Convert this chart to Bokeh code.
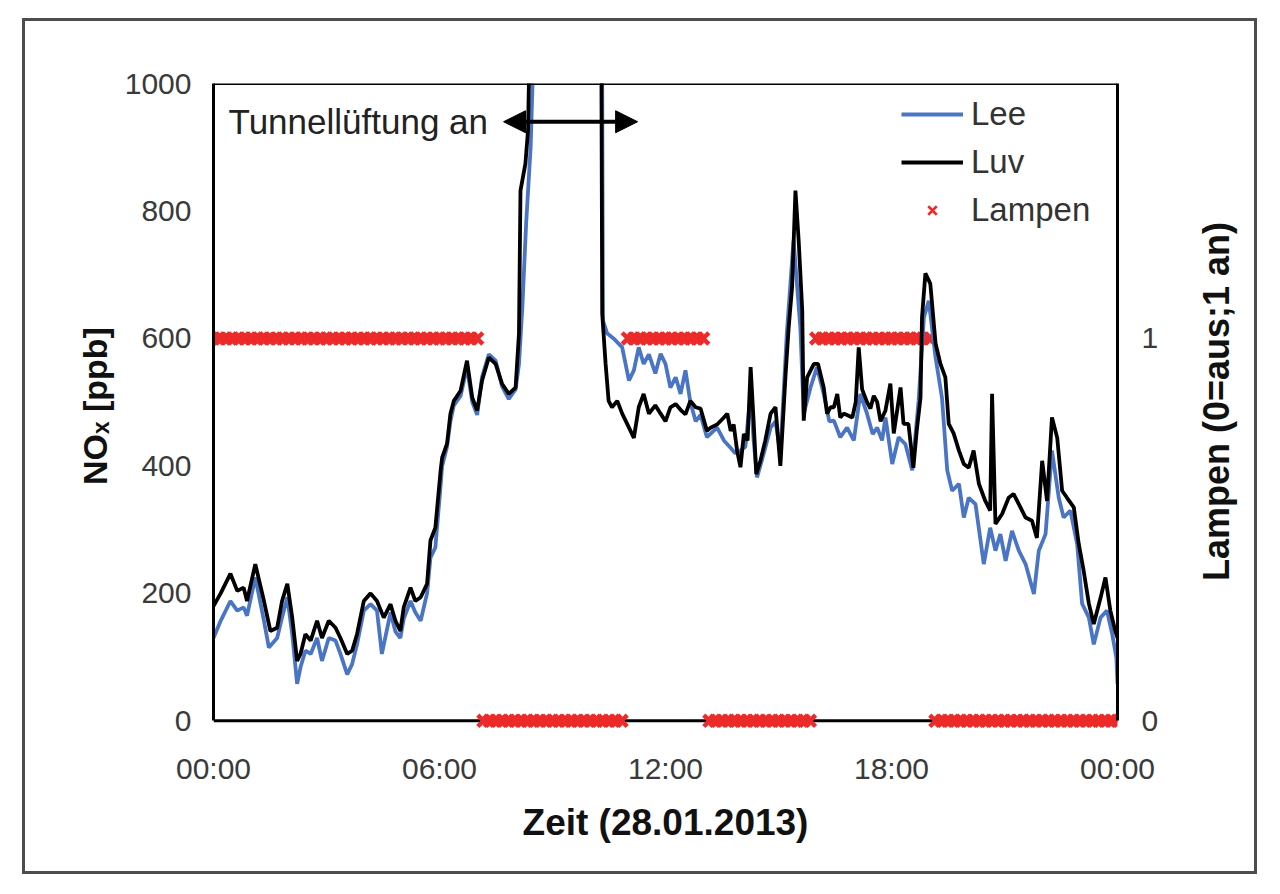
import math
from bokeh.plotting import figure
from bokeh.models import (Range1d, LinearAxis, FixedTicker, Span, Arrow, NormalHead,
                          Label, Legend, LegendItem)
from bokeh.embed import file_html
from bokeh.resources import INLINE

# ---------------- data ----------------
# Luv (black), NOx in ppb, time in hours of 28.01.2013
luv_hours = [0.00, 0.19, 0.45, 0.63, 0.80, 0.89, 1.11, 1.34, 1.51, 1.69, 1.82, 1.96, 2.09, 2.22, 2.31,
             2.44, 2.58, 2.75, 2.88, 3.06, 3.24, 3.37, 3.55, 3.68, 3.81, 3.99, 4.17, 4.34, 4.52, 4.70,
             4.83, 4.96, 5.05, 5.23, 5.36, 5.50, 5.67, 5.76, 5.89, 6.03, 6.07, 6.20, 6.29, 6.38, 6.56,
             6.73, 6.87, 7.00, 7.13, 7.31, 7.49, 7.66, 7.84, 8.02, 8.11, 8.15, 8.28, 8.35, 8.42, 8.60,
             9.40, 10.28, 10.32, 10.41, 10.49, 10.58, 10.72, 10.85, 11.03, 11.16, 11.29, 11.42, 11.56,
             11.73, 11.87, 12.00, 12.13, 12.27, 12.40, 12.53, 12.66, 12.80, 12.93, 13.10, 13.20, 13.37,
             13.55, 13.64, 13.73, 13.81, 13.90, 13.99, 14.08, 14.18, 14.26, 14.34, 14.41, 14.52, 14.65,
             14.79, 14.92, 15.05, 15.19, 15.27, 15.36, 15.45, 15.54, 15.63, 15.67, 15.76, 15.94, 16.05,
             16.20, 16.29, 16.38, 16.47, 16.56, 16.64, 16.73, 16.82, 16.96, 17.05, 17.13, 17.22, 17.35,
             17.44, 17.53, 17.62, 17.71, 17.84, 17.97, 18.06, 18.24, 18.32, 18.45, 18.58, 18.67, 18.77,
             18.81, 18.90, 19.03, 19.17, 19.30, 19.43, 19.52, 19.65, 19.79, 19.92, 20.05, 20.18, 20.32,
             20.49, 20.62, 20.67, 20.76, 20.94, 21.11, 21.24, 21.38, 21.56, 21.73, 21.86, 22.00, 22.13,
             22.26, 22.40, 22.53, 22.66, 22.84, 22.97, 23.10, 23.24, 23.37, 23.55, 23.68, 23.81, 23.94,
             24.00]
luv_nox = [180, 200, 231, 204, 209, 188, 246, 188, 141, 146, 188, 215, 162, 94, 105,
           136, 126, 157, 130, 157, 146, 130, 105, 110, 136, 188, 200, 188, 162, 183,
           157, 141, 178, 209, 188, 194, 215, 283, 303, 393, 413, 435, 482, 502, 518,
           565, 507, 487, 534, 570, 560, 529, 513, 523, 608, 832, 874, 926, 1150, 1300,
           1400, 1350, 639, 560, 502, 492, 502, 482, 460, 444, 492, 513, 482,
           495, 482, 470, 492, 497, 488, 481, 502, 492, 490, 455, 460, 465,
           476, 482, 455, 465, 424, 398, 450, 440, 555, 470, 387, 408, 440,
           482, 492, 400, 545, 617, 680, 832, 749, 644, 471, 539, 560, 560,
           523, 482, 492, 492, 513, 476, 482, 480, 476, 500, 586, 520, 500,
           490, 510, 500, 470, 487, 529, 451, 523, 466, 466, 397, 455, 507,
           633, 702, 686, 592, 560, 539, 466, 451, 424, 403, 397, 424, 372,
           345, 330, 513, 309, 325, 350, 356, 340, 319, 314, 287, 408, 345,
           476, 444, 361, 350, 335, 278, 236, 184, 152, 193, 225, 173, 141,
           130]

# Lee (blue)
lee_hours = [0.00, 0.19, 0.45, 0.63, 0.80, 0.89, 1.11, 1.34, 1.47, 1.69, 1.82, 1.96, 2.09, 2.22, 2.31,
             2.44, 2.58, 2.75, 2.88, 3.06, 3.24, 3.37, 3.55, 3.68, 3.81, 3.99, 4.17, 4.34, 4.47, 4.70,
             4.83, 4.96, 5.05, 5.23, 5.36, 5.50, 5.67, 5.76, 5.89, 6.03, 6.07, 6.20, 6.29, 6.38, 6.56,
             6.73, 6.87, 7.00, 7.13, 7.31, 7.49, 7.66, 7.84, 8.02, 8.11, 8.20, 8.30, 8.42, 8.52, 8.70,
             9.40, 10.30, 10.34, 10.45, 10.62, 10.85, 11.03, 11.16, 11.29, 11.42, 11.56, 11.73, 11.87,
             12.00, 12.13, 12.27, 12.40, 12.53, 12.66, 12.80, 12.93, 13.10, 13.37, 13.55, 13.72, 13.85,
             13.99, 14.12, 14.26, 14.34, 14.43, 14.61, 14.79, 14.92, 15.05, 15.22, 15.40, 15.58, 15.67,
             15.85, 16.02, 16.20, 16.35, 16.47, 16.64, 16.82, 17.00, 17.17, 17.35, 17.50, 17.62, 17.75,
             17.84, 18.02, 18.19, 18.37, 18.55, 18.72, 18.86, 18.99, 19.17, 19.34, 19.48, 19.61, 19.79,
             19.92, 20.05, 20.23, 20.45, 20.62, 20.76, 20.89, 21.03, 21.20, 21.38, 21.56, 21.78, 21.91,
             22.09, 22.26, 22.44, 22.57, 22.75, 22.93, 23.06, 23.24, 23.37, 23.55, 23.72, 23.86, 23.97,
             24.00]
lee_nox = [130, 157, 188, 173, 178, 165, 225, 157, 115, 130, 162, 194, 136, 58, 84,
           110, 105, 130, 94, 130, 126, 105, 73, 89, 120, 173, 183, 173, 105, 170,
           140, 130, 160, 188, 170, 157, 200, 256, 272, 370, 400, 430, 470, 495, 510,
           555, 500, 480, 540, 575, 565, 525, 505, 520, 560, 650, 780, 900, 1100, 1300,
           1400, 1350, 628, 608, 600, 586, 534, 550, 586, 560, 575, 545, 576,
           560, 523, 539, 513, 550, 500, 470, 480, 445, 460, 440, 429, 420,
           424, 430, 513, 440, 382, 420, 460, 470, 419, 607, 754, 617, 482,
           523, 555, 513, 470, 471, 445, 460, 440, 513, 482, 450, 460, 440,
           476, 403, 445, 434, 393, 502, 633, 659, 570, 507, 393, 361, 372,
           319, 350, 340, 246, 303, 267, 293, 251, 298, 267, 246, 199, 267,
           293, 424, 350, 319, 330, 277, 184, 162, 120, 162, 173, 136, 99,
           58]

# Lampen state (0 = aus, 1 = an), one row per hour, 10-minute steps, plus 24:00
lamp_rows = [
    [1, 1, 1, 1, 1, 1],  # 00
    [1, 1, 1, 1, 1, 1],  # 01
    [1, 1, 1, 1, 1, 1],  # 02
    [1, 1, 1, 1, 1, 1],  # 03
    [1, 1, 1, 1, 1, 1],  # 04
    [1, 1, 1, 1, 1, 1],  # 05
    [1, 1, 1, 1, 1, 1],  # 06
    [1, 0, 0, 0, 0, 0],  # 07
    [0, 0, 0, 0, 0, 0],  # 08
    [0, 0, 0, 0, 0, 0],  # 09
    [0, 0, 0, 0, 0, 0],  # 10
    [1, 1, 1, 1, 1, 1],  # 11
    [1, 1, 1, 1, 1, 1],  # 12
    [1, 0, 0, 0, 0, 0],  # 13
    [0, 0, 0, 0, 0, 0],  # 14
    [0, 0, 0, 0, 0, 0],  # 15
    [1, 1, 1, 1, 1, 1],  # 16
    [1, 1, 1, 1, 1, 1],  # 17
    [1, 1, 1, 1, 1, 1],  # 18
    [1, 0, 0, 0, 0, 0],  # 19
    [0, 0, 0, 0, 0, 0],  # 20
    [0, 0, 0, 0, 0, 0],  # 21
    [0, 0, 0, 0, 0, 0],  # 22
    [0, 0, 0, 0, 0, 0],  # 23
]
lamp_last = [0]  # 24:00

x_ticks = [0, 6, 12, 18, 24]
x_tick_labels = ["00:00", "06:00", "12:00", "18:00", "00:00"]
y_ticks = [0, 200, 400, 600, 800, 1000]
lamp_ticks = [0, 1]
nox_per_lamp_on = 600          # left-axis value that lines up with "1" on the right axis
vent_start, vent_end = 7.70, 11.26   # Tunnelluftung arrow (hours)
vent_label_x, vent_level = 0.40, 940
right_title_x, right_title_y = 26.63, 501   # placement of the right-axis title (data units)

# ---------------- derived ----------------
lamp_states = [v for row in lamp_rows for v in row] + lamp_last
lamp_hours = [i / 6 for i in range(len(lamp_states))]

FONT = "Liberation Sans"
BLUE = "#4a74c4"
RED = "#ec2a2a"

y_lo, y_hi = -12, 1000
p = figure(width=1235, height=856, output_backend="svg", toolbar_location=None,
           x_range=Range1d(0, 24), y_range=Range1d(y_lo, y_hi),
           min_border_left=188, min_border_right=143, min_border_top=62, min_border_bottom=149,
           background_fill_color="white", border_fill_color="white")
p.extra_y_ranges = {"lamp": Range1d(y_lo / nox_per_lamp_on, y_hi / nox_per_lamp_on)}
p.grid.visible = False
p.outline_line_color = None
p.margin = (18, 0, 0, 22)
p.styles = {"border": "3px solid #4d4d4d"}

# legend swatch for the lamp marker: one point, hidden beneath the band drawn next
r_lamp_key = p.scatter(lamp_hours[:1], lamp_states[:1], marker="x", size=12, line_width=2.5,
                       color=RED, y_range_name="lamp")
r_lamp = p.scatter(lamp_hours, lamp_states, marker="x", size=16, line_width=4.5,
                   color=RED, y_range_name="lamp")
r_lee = p.line(lee_hours, lee_nox, line_color=BLUE, line_width=3.8)
r_luv = p.line(luv_hours, luv_nox, line_color="black", line_width=3.8)

# frame lines
p.add_layout(Span(location=0, dimension="width", line_color="black", line_width=3, level="underlay"))
p.add_layout(Span(location=y_hi, dimension="width", line_color="black", line_width=3))

def style_axis(ax):
    ax.major_tick_line_color = None
    ax.minor_tick_line_color = None
    ax.major_tick_out = 0
    ax.major_tick_in = 0
    ax.minor_tick_out = 0
    ax.major_label_text_font = FONT
    ax.major_label_text_font_size = "30px"
    ax.major_label_text_color = "#3a3a3a"
    ax.axis_label_text_font = FONT
    ax.axis_label_text_font_style = "bold"
    ax.axis_label_text_color = "#111111"

xa = p.xaxis[0]
style_axis(xa)
xa.ticker = FixedTicker(ticks=x_ticks)
xa.major_label_overrides = {t: l for t, l in zip(x_ticks, x_tick_labels)}
xa.axis_line_color = None
xa.major_label_standoff = 23
xa.axis_label = "Zeit (28.01.2013)"
xa.axis_label_text_font_size = "37px"
xa.axis_label_standoff = 14

ya = p.yaxis[0]
style_axis(ya)
ya.ticker = FixedTicker(ticks=y_ticks)
ya.bounds = (0, y_hi)
ya.axis_line_color = "black"
ya.axis_line_width = 3
ya.major_label_standoff = 22
ya.axis_label = "NOₓ [ppb]"
ya.axis_label_text_font_size = "34px"
ya.axis_label_standoff = 8

ra = LinearAxis(y_range_name="lamp", ticker=FixedTicker(ticks=lamp_ticks),
                bounds=(0, y_hi / nox_per_lamp_on))
style_axis(ra)
ra.axis_line_color = "black"
ra.axis_line_width = 3
ra.major_label_standoff = 24
p.add_layout(ra, "right")

# right-axis title, reading bottom-to-top like the left one (in the side panel, so not clipped)
p.add_layout(Label(x=right_title_x, y=right_title_y, text="Lampen (0=aus;1 an)",
                   angle=math.pi / 2, text_align="center", text_baseline="middle",
                   text_font=FONT, text_font_style="bold", text_font_size="36px",
                   text_color="#111111"), "right")

# annotation
p.add_layout(Arrow(start=NormalHead(size=22, fill_color="black", line_color="black"),
                   end=NormalHead(size=22, fill_color="black", line_color="black"),
                   x_start=vent_start, y_start=vent_level, x_end=vent_end, y_end=vent_level,
                   line_color="black", line_width=4))
p.add_layout(Label(x=vent_label_x, y=vent_level, text="Tunnellüftung an",
                   text_font=FONT, text_font_size="35px", text_baseline="middle",
                   text_color="#222222"))

legend = Legend(items=[LegendItem(label="Lee", renderers=[r_lee]),
                       LegendItem(label="Luv", renderers=[r_luv]),
                       LegendItem(label="Lampen", renderers=[r_lamp_key])],
                location=(688, 499))
legend.label_text_font = FONT
legend.label_text_font_size = "33px"
legend.label_text_color = "#333333"
legend.glyph_width = 62
legend.glyph_height = 30
legend.label_height = 36
legend.label_standoff = 8
legend.spacing = 10
legend.padding = 6
legend.margin = 0
legend.border_line_color = None
legend.background_fill_alpha = 0
p.add_layout(legend)

open("out.html", "w").write(file_html(p, INLINE))
